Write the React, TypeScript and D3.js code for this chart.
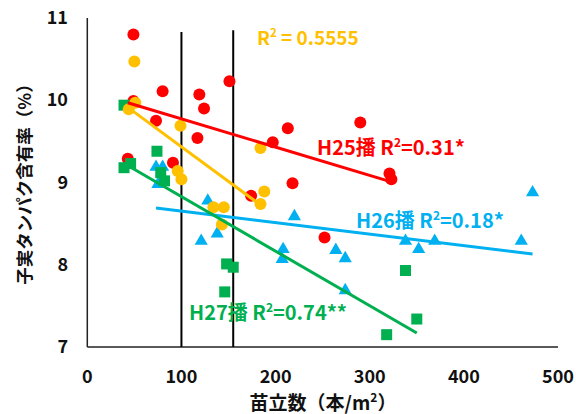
import React, { useEffect, useRef } from 'react';
import * as d3 from 'd3';

// H25 seeding (red circles)
const h25X = [49, 80, 119, 124, 151, 49, 73, 117, 43, 91, 213, 290, 197, 321, 323, 218, 174, 252];
const h25Y = [10.8, 10.11, 10.07, 9.9, 10.23, 9.99, 9.75, 9.54, 9.29, 9.24, 9.66, 9.73, 9.49, 9.11, 9.04, 8.99, 8.84, 8.33];

// unlabelled series (yellow circles)
const yelX = [50, 44, 99, 51, 96, 100, 134, 145, 143, 184, 188, 184];
const yelY = [10.47, 9.89, 9.69, 9.97, 9.14, 9.04, 8.7, 8.7, 8.49, 9.42, 8.89, 8.74];

// H26 seeding (blue triangles)
const h26X = [73, 80, 75, 128, 138, 121, 220, 208, 207, 264, 274, 274, 473, 338, 352, 369, 461];
const h26Y = [9.2, 9.2, 8.99, 8.79, 8.39, 8.3, 8.6, 8.2, 8.08, 8.19, 8.09, 7.7, 8.89, 8.3, 8.2, 8.3, 8.3];

// H27 seeding (green squares)
const h27X = [39, 74, 39, 46, 78, 82, 148, 155, 146, 338, 350, 318];
const h27Y = [9.94, 9.38, 9.18, 9.23, 9.12, 9.02, 8.01, 7.97, 7.67, 7.93, 7.34, 7.15];

// trend lines: [x1, y1, x2, y2]
const h25Trend = [43, 9.97, 322, 9.01];
const yelTrend = [47, 9.88, 180, 8.76];
const h26Trend = [73, 8.69, 473, 8.13];
const h27Trend = [47, 9.18, 350, 7.17];

const xTicks = [0, 100, 200, 300, 400, 500];
const yTicks = [7, 8, 9, 10, 11];
const guideX = [100, 155];
const guideTop = [10.83, 10.85];

const FONT = '"Noto Sans CJK JP", "Noto Sans", sans-serif';

const App = () => {
  const ref = useRef<SVGSVGElement>(null);

  useEffect(() => {
    const svg = d3.select(ref.current).attr('width', 576).attr('height', 414);
    svg.selectAll('*').remove();

    const x = d3.scaleLinear().domain([0, 500]).range([87.3, 558]);
    const y = d3.scaleLinear().domain([7, 11]).range([347, 18]);

    svg.append('rect').attr('width', 576).attr('height', 414).attr('fill', '#fff');

    // axes
    svg.append('line')
      .attr('x1', x(0)).attr('x2', x(0)).attr('y1', y(11)).attr('y2', y(7))
      .attr('stroke', '#222').attr('stroke-width', 1.5);
    svg.append('line')
      .attr('x1', x(0)).attr('x2', x(500)).attr('y1', y(7)).attr('y2', y(7))
      .attr('stroke', '#222').attr('stroke-width', 1.5);

    svg.selectAll('.xt').data(xTicks).enter().append('text')
      .attr('x', d => x(d)).attr('y', 383)
      .attr('text-anchor', 'middle').attr('font-family', FONT)
      .attr('font-weight', 'bold').attr('font-size', 18).attr('fill', '#111')
      .text(d => d);
    svg.selectAll('.yt').data(yTicks).enter().append('text')
      .attr('x', 68).attr('y', d => y(d) + 6)
      .attr('text-anchor', 'end').attr('font-family', FONT)
      .attr('font-weight', 'bold').attr('font-size', 18).attr('fill', '#111')
      .text(d => d);

    // guide lines
    svg.selectAll('.guide').data(guideX).enter().append('line')
      .attr('x1', d => x(d)).attr('x2', d => x(d))
      .attr('y1', (d, i) => y(guideTop[i])).attr('y2', y(7))
      .attr('stroke', '#000').attr('stroke-width', 2);

    const circles = (xs: number[], ys: number[], color: string) => {
      svg.append('g').selectAll('circle').data(xs).enter().append('circle')
        .attr('cx', d => x(d)).attr('cy', (d, i) => y(ys[i])).attr('r', 6)
        .attr('fill', color);
    };
    circles(h25X, h25Y, '#FF0000');

    const tri = d3.symbol().type(d3.symbolTriangle).size(75);
    svg.append('g').selectAll('path').data(h26X).enter().append('path')
      .attr('d', tri)
      .attr('transform', (d, i) => `translate(${x(d)},${y(h26Y[i]) + 1})`)
      .attr('fill', '#00B0F0');

    svg.append('g').selectAll('rect').data(h27X).enter().append('rect')
      .attr('x', d => x(d) - 5.5).attr('y', (d, i) => y(h27Y[i]) - 5.5)
      .attr('width', 11).attr('height', 11)
      .attr('fill', '#00B050');

    circles(yelX, yelY, '#FFC000');

    // trend lines
    const trend = (t: number[], color: string) => {
      svg.append('line')
        .attr('x1', x(t[0])).attr('y1', y(t[1])).attr('x2', x(t[2])).attr('y2', y(t[3]))
        .attr('stroke', color).attr('stroke-width', 3);
    };
    trend(yelTrend, '#FFC000');
    trend(h25Trend, '#FF0000');
    trend(h26Trend, '#00B0F0');
    trend(h27Trend, '#00B050');

    // labels
    const label = (tx: number, ty: number, size: number, color: string, head: string, tail: string) => {
      const t = svg.append('text')
        .attr('x', tx).attr('y', ty).attr('font-family', FONT)
        .attr('font-weight', 'bold').attr('font-size', size).attr('fill', color);
      t.append('tspan').text(head);
      t.append('tspan').attr('font-size', size * 0.6).attr('dy', -8).text('2');
      t.append('tspan').attr('dy', 8).text(tail);
    };
    label(257, 45, 19, '#FFC000', 'R', ' = 0.5555');
    label(317, 155, 20, '#FF0000', 'H25播 R', '=0.31*');
    label(356, 228, 20, '#00B0F0', 'H26播 R', '=0.18*');
    label(189, 320, 20, '#00B050', 'H27播 R', '=0.74**');

    // axis titles
    const xt = svg.append('text')
      .attr('x', 323).attr('y', 410).attr('text-anchor', 'middle')
      .attr('font-family', FONT).attr('font-weight', 'bold').attr('font-size', 19).attr('fill', '#111');
    xt.append('tspan').text('苗立数（本/m');
    xt.append('tspan').attr('font-size', 12).attr('dy', -8).text('2');
    xt.append('tspan').attr('dy', 8).text('）');

    svg.append('text')
      .attr('transform', 'translate(31,180) rotate(-90)')
      .attr('text-anchor', 'middle')
      .attr('font-family', FONT).attr('font-weight', 'bold').attr('font-size', 17.5).attr('fill', '#111')
      .text('子実タンパク含有率（%）');
  }, []);

  return <svg ref={ref} style={{ position: 'absolute', left: 0, top: 0 }}></svg>;
};

export default App;
